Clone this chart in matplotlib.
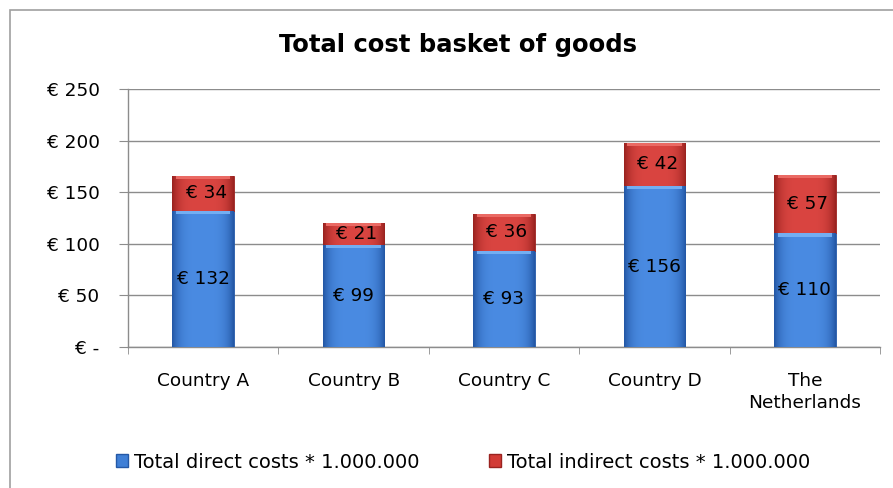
import numpy as np
import matplotlib
matplotlib.use('Agg')
import matplotlib.pyplot as plt
from matplotlib.patches import Rectangle, Patch
from matplotlib.colors import to_rgb

countries = ['Country A', 'Country B', 'Country C', 'Country D', 'The\nNetherlands']
direct_costs = [132, 99, 93, 156, 110]
indirect_costs = [34, 21, 36, 42, 57]
y_ticks = [0, 50, 100, 150, 200, 250]
y_tick_labels = ['€ -', '€ 50', '€ 100', '€ 150', '€ 200', '€ 250']

plt.rcParams['font.family'] = ['DejaVu Sans']

BLUE = '#3f7fd6'
BLUE_DARK = '#2458a6'
RED = '#d23b36'
RED_DARK = '#9a2320'
GRID = '#8c8c8c'
FS = 13.3


def shade(ax, bars, light, dark):
    # horizontal gradient: darker at the sides, lighter in the middle
    t = np.linspace(0, 1, 64)
    prof = np.abs(2 * t - 1) ** 4
    c1, c2 = np.array(to_rgb(light)), np.array(to_rgb(dark))
    img = (c1[None, :] * (1 - prof[:, None]) + c2[None, :] * prof[:, None])[None, :, :]
    for b in bars:
        x0, y0 = b.get_x(), b.get_y()
        w, h = b.get_width(), b.get_height()
        im = ax.imshow(img, extent=(x0, x0 + w, y0, y0 + h), aspect='auto',
                       zorder=3.5, interpolation='bilinear')
        im.set_clip_path(b)


fig = plt.figure(figsize=(8.93, 4.88), dpi=100)
# outer chart frame (runs off the right and bottom edge)
fig.patches.append(Rectangle((10 / 893, -0.1), 1.2, 1 - 10 / 488 + 0.1,
                             transform=fig.transFigure, fill=False,
                             edgecolor='#a0a0a0', linewidth=1.2))

ax = fig.add_axes([128 / 893, 1 - 347 / 488, (880 - 128) / 893, (347 - 89) / 488])
x = np.arange(len(countries))
width = 0.41

b1 = ax.bar(x, direct_costs, width, color=BLUE, edgecolor=BLUE_DARK, linewidth=0.6, zorder=3,
            label='Total direct costs * 1.000.000')
b2 = ax.bar(x, indirect_costs, width, bottom=direct_costs, color=RED, edgecolor=RED_DARK,
            linewidth=0.6, zorder=3, label='Total indirect costs * 1.000.000')
shade(ax, b1, '#4a8be2', BLUE_DARK)
shade(ax, b2, '#da4541', RED_DARK)

# light bevel strip at top of each segment
ax.bar(x, [3] * len(x), width * 0.88, bottom=np.array(direct_costs) - 3,
       color='#73aef2', linewidth=0, zorder=4)
ax.bar(x, [3] * len(x), width * 0.88, bottom=np.array(direct_costs) + np.array(indirect_costs) - 3,
       color='#ea6a64', linewidth=0, zorder=4)

for i in range(len(x)):
    ax.text(x[i], direct_costs[i] / 2, f'€ {direct_costs[i]}', ha='center', va='center',
            fontsize=FS, color='black', zorder=5)
    ax.text(x[i] + 0.02, direct_costs[i] + indirect_costs[i] / 2, f'€ {indirect_costs[i]}',
            ha='center', va='center', fontsize=FS, color='black', zorder=5)

ax.set_xlim(-0.5, len(x) - 0.5)
ax.set_ylim(0, 250)
ax.set_yticks(y_ticks)
ax.set_yticklabels(y_tick_labels, fontsize=FS)
ax.set_xticks(x)
ax.set_xticklabels(countries, fontsize=FS, linespacing=1.3)
ax.tick_params(axis='x', length=0, pad=18)
ax.tick_params(axis='y', length=6.5, color=GRID, pad=14)
ax.set_xticks(np.arange(-0.5, len(x), 1), minor=True)
ax.tick_params(axis='x', which='minor', length=5, color=GRID, direction='out')
ax.yaxis.grid(True, color=GRID, linewidth=1, zorder=0)
ax.set_axisbelow(True)
for s in ['top', 'right']:
    ax.spines[s].set_visible(False)
for s in ['left', 'bottom']:
    ax.spines[s].set_color(GRID)
    ax.spines[s].set_linewidth(1)

fig.text(458 / 893, 1 - 45 / 488, 'Total cost basket of goods', ha='center', va='center',
         fontsize=17.5, fontweight='bold')

handles = [Patch(facecolor=BLUE, edgecolor=BLUE_DARK), Patch(facecolor=RED, edgecolor=RED_DARK)]
fig.legend(handles, ['Total direct costs * 1.000.000', 'Total indirect costs * 1.000.000'],
           loc='center', bbox_to_anchor=(463 / 893, 1 - 462 / 488), ncol=2, frameon=False,
           fontsize=14, handlelength=0.62, handleheight=0.62, handletextpad=0.3, columnspacing=3.6)

fig.savefig('out.png', dpi=100)
